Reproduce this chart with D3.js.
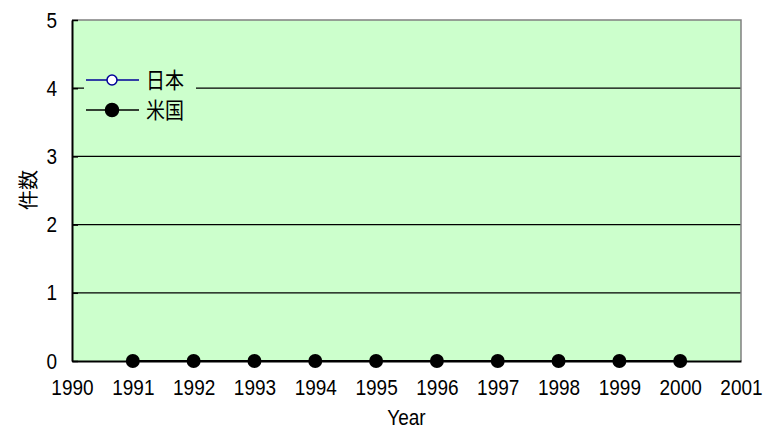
<!DOCTYPE html>
<meta charset="utf-8" />
<script src="https://d3js.org/d3.v7.min.js"></script>
<style>
  body { margin: 0; background: #fff; }
  text { font-family: "Liberation Sans", Arial, sans-serif; fill: #000; }
  .cjk { font-family: "Noto Sans CJK JP", sans-serif; }
</style>
<div id="chart"></div>
<script>
  // data
  const years = [1991, 1992, 1993, 1994, 1995, 1996, 1997, 1998, 1999, 2000];
  const japan = [0, 0, 0, 0, 0, 0, 0, 0, 0, 0];
  const usa = [0, 0, 0, 0, 0, 0, 0, 0, 0, 0];
  const xTicks = [1990, 1991, 1992, 1993, 1994, 1995, 1996, 1997, 1998, 1999, 2000, 2001];
  const yTicks = [0, 1, 2, 3, 4, 5];

  const W = 764, H = 430;
  const margin = { top: 20, right: 23, bottom: 69, left: 72 };
  const width = W - margin.left - margin.right,
    height = H - margin.top - margin.bottom;
  const stretchY = 1.15; // the text in the original looks a bit tall

  // move x/y of a text into a transform so it can be stretched vertically
  function stretch(sel) {
    sel.each(function () {
      const t = d3.select(this);
      const tx = +t.attr("x") || 0, ty = +t.attr("y") || 0;
      t.attr("x", null).attr("y", null)
        .attr("transform", `translate(${tx},${ty}) scale(1,${stretchY})`);
    });
  }

  const svg = d3.select("#chart").append("svg")
    .attr("width", W).attr("height", H)
    .append("g")
    .attr("transform", `translate(${margin.left},${margin.top})`);

  const x = d3.scaleLinear().domain([1990, 2001]).range([0, width]);
  const y = d3.scaleLinear().domain([0, 5]).range([height, 0]);

  // plot background
  svg.append("rect")
    .attr("width", width).attr("height", height)
    .attr("fill", "#CCFFCC");

  // gridlines
  svg.selectAll(".grid").data(yTicks.filter(d => d > 0 && d < 5))
    .join("line")
    .attr("x1", 0).attr("x2", width)
    .attr("y1", d => y(d)).attr("y2", d => y(d))
    .attr("stroke", "#000").attr("stroke-width", 1.2);

  // border top/right
  svg.append("path")
    .attr("d", `M0,0H${width}V${height}`)
    .attr("fill", "none").attr("stroke", "#808080").attr("stroke-width", 1.5);

  // y axis
  const yAxis = svg.append("g")
    .call(d3.axisLeft(y).tickValues(yTicks).tickFormat(d3.format("d"))
      .tickSizeInner(-6).tickSizeOuter(0).tickPadding(15));
  yAxis.select(".domain").attr("stroke", "#000").attr("stroke-width", 2);
  yAxis.selectAll(".tick line").attr("stroke", "#000").attr("stroke-width", 1.5);
  yAxis.selectAll("text").style("font-size", "19px")
    .style("font-family", "'Liberation Sans', Arial, sans-serif")
    .call(stretch);

  // x axis
  const xAxis = svg.append("g")
    .attr("transform", `translate(0,${height})`)
    .call(d3.axisBottom(x).tickValues(xTicks).tickFormat(d3.format("d")).tickSize(0).tickPadding(18));
  xAxis.select(".domain").attr("stroke", "#000").attr("stroke-width", 2);
  xAxis.selectAll("text").style("font-size", "19px")
    .style("font-family", "'Liberation Sans', Arial, sans-serif")
    .call(stretch);

  // axis titles
  svg.append("text")
    .attr("x", width / 2).attr("y", height + 64)
    .attr("text-anchor", "middle").style("font-size", "19px")
    .text("Year")
    .call(stretch);
  svg.append("text")
    .attr("class", "cjk")
    .attr("transform", `translate(${-45},${170}) rotate(-90)`)
    .attr("text-anchor", "middle").attr("dominant-baseline", "central")
    .style("font-size", "20px")
    .text("件数");

  // series
  const line = d3.line().x((d, i) => x(years[i])).y(d => y(d));
  svg.append("path").datum(japan)
    .attr("fill", "none").attr("stroke", "#000099").attr("stroke-width", 1.5)
    .attr("d", line);
  svg.selectAll(".jp").data(japan).join("circle")
    .attr("cx", (d, i) => x(years[i])).attr("cy", d => y(d))
    .attr("r", 5).attr("fill", "#fff").attr("stroke", "#000099").attr("stroke-width", 1.5);

  svg.append("path").datum(usa)
    .attr("fill", "none").attr("stroke", "#000").attr("stroke-width", 2)
    .attr("d", line);
  svg.selectAll(".us").data(usa).join("circle")
    .attr("cx", (d, i) => x(years[i])).attr("cy", d => y(d))
    .attr("r", 7).attr("fill", "#000");

  // legend
  const legend = svg.append("g").attr("transform", "translate(12,44)");
  legend.append("rect")
    .attr("width", 112).attr("height", 60).attr("fill", "#CCFFCC");
  const items = [
    { name: "日本", color: "#000099", fill: "#fff", r: 5 },
    { name: "米国", color: "#000", fill: "#000", r: 6.5 }
  ];
  const row = legend.selectAll(".item").data(items).join("g")
    .attr("transform", (d, i) => `translate(0,${16 + i * 30})`);
  row.append("line").attr("x1", 2).attr("x2", 55)
    .attr("stroke", d => d.color).attr("stroke-width", 1.5);
  row.append("circle").attr("cx", 28).attr("r", d => d.r)
    .attr("fill", d => d.fill).attr("stroke", d => d.color).attr("stroke-width", 1.5);
  row.append("text").attr("class", "cjk")
    .attr("x", 62).attr("dy", "0.36em").style("font-size", "19px")
    .text(d => d.name)
    .call(stretch);
</script>
